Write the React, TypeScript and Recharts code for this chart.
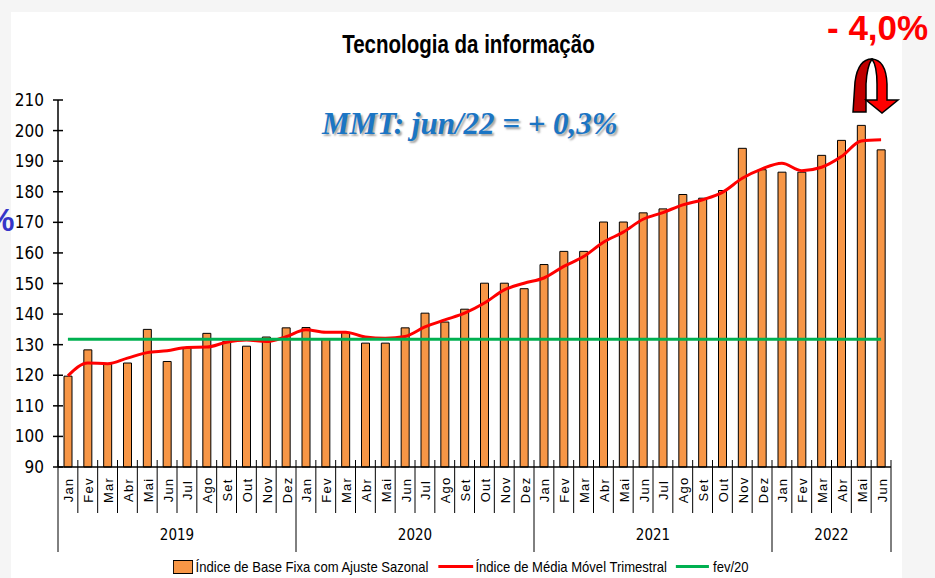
import { ComposedChart, Bar, Line, XAxis, YAxis } from "recharts";

const MONTHS = ["Jan", "Fev", "Mar", "Abr", "Mai", "Jun", "Jul", "Ago", "Set", "Out", "Nov", "Dez"];
const YEARS = ["2019", "2020", "2021", "2022"];
const MONTHS_PER_YEAR = [12, 12, 12, 6];

// Índice de Base Fixa com Ajuste Sazonal
const BASE = [
  119.7, 128.3, 123.6, 124.0, 135.0, 124.5, 129.0, 133.7, 131.0, 129.5, 132.5, 135.5,
  135.6, 131.8, 134.0, 130.5, 130.5, 135.5, 140.3, 137.4, 141.6, 150.1, 150.1, 148.3,
  156.2, 160.5, 160.5, 170.1, 170.1, 173.1, 174.4, 179.1, 177.9, 180.4, 194.2, 187.2,
  186.4, 186.4, 191.9, 196.8, 201.7, 193.7,
];

// Índice de Média Móvel Trimestral
const MMT = [
  119.8, 124.0, 123.8, 125.6, 127.4, 128.0, 129.1, 129.2, 130.8, 131.5, 131.0, 132.6,
  134.9, 134.1, 134.1, 132.5, 132.1, 132.7, 135.8, 138.1, 140.3, 143.6, 147.9, 150.1,
  151.8, 155.6, 158.8, 163.5, 166.8, 171.0, 173.2, 175.7, 177.4, 179.8, 184.4, 187.5,
  189.3, 186.9, 188.0, 191.5, 196.6, 197.0,
];

const Y_TICKS = [90, 100, 110, 120, 130, 140, 150, 160, 170, 180, 190, 200, 210];

const NARROW = "'Liberation Sans Narrow', 'DejaVu Sans Condensed', 'Arial Narrow', sans-serif";
const SANS = "'Liberation Sans', Arial, sans-serif";
const ORANGE = "#f79646";

type Row = { k: string; month: string; year: string; base: number; mmt: number; fev20: number };

const data: Row[] = [];
YEARS.forEach((yr, yi) => {
  for (let mi = 0; mi < MONTHS_PER_YEAR[yi]; mi++) {
    const i = data.length;
    data.push({ k: `${MONTHS[mi]}/${yr}`, month: MONTHS[mi], year: yr, base: BASE[i], mmt: MMT[i], fev20: 0 });
  }
});
// reference line sits at the fev/20 level of the base index
const FEV20 = data.find((d) => d.k === "Fev/2020")!.base;
data.forEach((d) => (d.fev20 = FEV20));

const W = 935;
const H = 578;
const PLOT_LEFT = 58;
const PLOT_RIGHT = 891;
const BAND = (PLOT_RIGHT - PLOT_LEFT) / data.length;

const MonthTick = (props: any) => {
  const { x, y, index } = props;
  const d = data[index];
  if (!d) return null;
  const left = x - BAND / 2;
  return (
    <g>
      <line x1={left} x2={left} y1={y - 7} y2={y + 46} stroke="#000" strokeWidth={1} />
      {index === data.length - 1 && (
        <line x1={x + BAND / 2} x2={x + BAND / 2} y1={y - 7} y2={y + 46} stroke="#000" strokeWidth={1} />
      )}
      <text
        transform={`translate(${x + 1},${y + 23}) rotate(-90)`}
        textAnchor="middle"
        dominantBaseline="central"
        fontSize={13}
        letterSpacing={1.2}
        fontFamily={SANS}
        fill="#000"
      >
        {d.month}
      </text>
    </g>
  );
};

const YearTick = (props: any) => {
  const { x, y, index } = props;
  const d = data[index];
  if (!d) return null;
  const left = x - BAND / 2;
  const first = data.findIndex((r) => r.year === d.year);
  const count = data.filter((r) => r.year === d.year).length;
  const mid = first + Math.floor(count / 2);
  return (
    <g>
      {d.month === "Jan" && <line x1={left} x2={left} y1={y} y2={y + 39} stroke="#000" strokeWidth={1} />}
      {index === data.length - 1 && (
        <line x1={x + BAND / 2} x2={x + BAND / 2} y1={y} y2={y + 39} stroke="#000" strokeWidth={1} />
      )}
      {index === mid && (
        <text x={left} y={y + 27} textAnchor="middle" fontSize={15} fontFamily={NARROW} fill="#000">
          {d.year}
        </text>
      )}
    </g>
  );
};

const YTick = (props: any) => {
  const { x, y, payload } = props;
  return (
    <g>
      <line x1={x + 8} x2={x + 18} y1={y} y2={y} stroke="#000" strokeWidth={1.5} />
      <text x={x - 1} y={y} textAnchor="end" dominantBaseline="central" fontSize={17} fontFamily={NARROW} fill="#000">
        {payload.value}
      </text>
    </g>
  );
};

const Arrow = () => (
  <svg width={W} height={H} style={{ position: "absolute", left: 0, top: 0, pointerEvents: "none" }}>
    <path d="M853,112 L855,82 Q858,59 872,59 Q867,66 866,84 L866,112 Z" fill="#c00000" stroke="#000" strokeWidth={1.5} />
    <path
      d="M872,59 Q886,60 887,84 L887,100 L898,100 L882,113 L866,100 L877,100 L877,84 Q877,66 872,59 Z"
      fill="#ff0000"
      stroke="#000"
      strokeWidth={1.5}
    />
  </svg>
);

export default function App() {
  return (
    <div style={{ position: "absolute", left: 0, top: 0, width: W, height: H, background: "#f5f5f5", overflow: "hidden" }}>
      <div style={{ position: "absolute", left: 11, top: 12, width: 891, height: H - 12, background: "#fff" }} />
      <div
        style={{
          position: "absolute",
          left: -14,
          top: 202,
          color: "#3535c8",
          fontFamily: SANS,
          fontWeight: 700,
          fontSize: 32,
        }}
      >
        %
      </div>
      <div style={{ position: "absolute", left: 0, top: 0 }}>
        <ComposedChart width={W} height={H} data={data} margin={{ top: 100, right: W - PLOT_RIGHT, bottom: 0, left: 0 }}>
          <YAxis
            domain={[90, 210]}
            ticks={Y_TICKS}
            interval={0}
            width={PLOT_LEFT}
            tickSize={0}
            tickMargin={13}
            tick={<YTick />}
            axisLine={{ stroke: "#000", strokeWidth: 1.5 }}
            tickLine={false}
          />
          <XAxis
            xAxisId="m"
            dataKey="k"
            height={46}
            interval={0}
            tickSize={0}
            tickMargin={0}
            tickLine={false}
            tick={<MonthTick />}
            axisLine={{ stroke: "#000", strokeWidth: 1.5 }}
          />
          <XAxis
            xAxisId="yr"
            dataKey="k"
            height={65}
            interval={0}
            tickSize={0}
            tickMargin={0}
            tickLine={false}
            tick={<YearTick />}
            axisLine={false}
          />
          <Bar xAxisId="m" dataKey="base" barSize={8} fill={ORANGE} stroke="#000" strokeWidth={1} isAnimationActive={false} />
          <Line xAxisId="m" dataKey="mmt" type="monotone" stroke="#ff0000" strokeWidth={3} dot={false} isAnimationActive={false} />
          <Line xAxisId="m" dataKey="fev20" type="linear" stroke="#00b050" strokeWidth={3} dot={false} isAnimationActive={false} />
        </ComposedChart>
      </div>
      <div
        style={{
          position: "absolute",
          left: 0,
          width: 937,
          top: 30,
          textAlign: "center",
          fontFamily: SANS,
          fontWeight: 700,
          fontSize: 25,
          color: "#000",
          transform: "scaleX(0.82)",
          transformOrigin: "468px 0",
        }}
      >
        Tecnologia da informação
      </div>
      <div
        style={{
          position: "absolute",
          left: 322,
          top: 106,
          fontFamily: "'Liberation Serif', 'DejaVu Serif', serif",
          fontStyle: "italic",
          fontWeight: 700,
          fontSize: 31,
          color: "#1b75c4",
          textShadow: "2px 2px 2px rgba(0,0,0,0.35)",
          whiteSpace: "nowrap",
        }}
      >
        MMT: jun/22 = + 0,3%
      </div>
      <div
        style={{
          position: "absolute",
          left: 827,
          top: 8,
          fontFamily: SANS,
          fontWeight: 700,
          fontSize: 35,
          color: "#ff0000",
          whiteSpace: "nowrap",
        }}
      >
        - 4,0%
      </div>
      <Arrow />
      <div
        style={{
          position: "absolute",
          left: 173,
          top: 558,
          display: "flex",
          alignItems: "center",
          fontFamily: SANS,
          fontSize: 15,
          color: "#000",
          whiteSpace: "nowrap",
          transform: "scaleX(0.87)",
          transformOrigin: "0 0",
        }}
      >
        <span style={{ width: 21, height: 12, background: ORANGE, border: "1.5px solid #000", marginRight: 3 }} />
        <span style={{ marginRight: 11 }}>Índice de Base Fixa com Ajuste Sazonal</span>
        <span style={{ width: 40, height: 3, background: "#ff0000", marginRight: 3 }} />
        <span style={{ marginRight: 10 }}>Índice de Média Móvel Trimestral</span>
        <span style={{ width: 38, height: 3, background: "#00b050", marginRight: 5 }} />
        <span>fev/20</span>
      </div>
    </div>
  );
}
